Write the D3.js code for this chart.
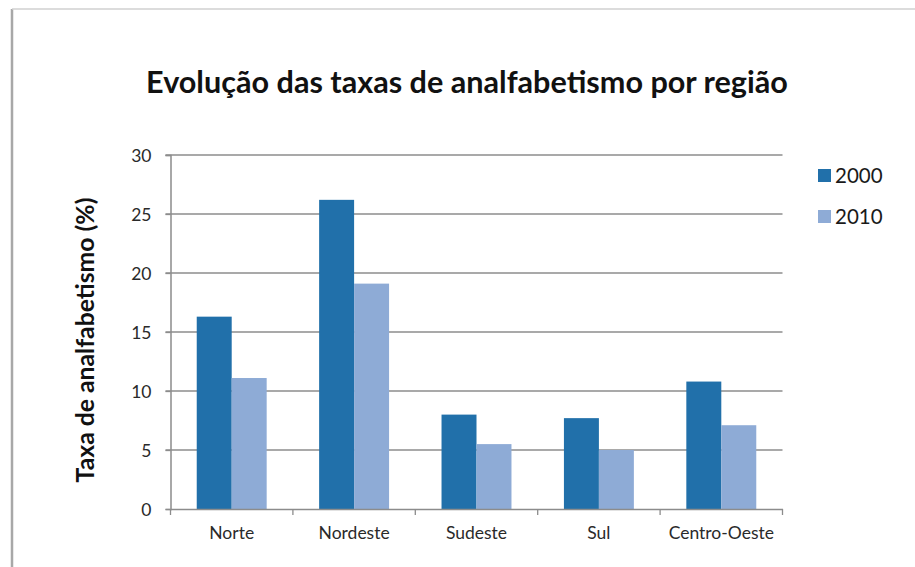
<!DOCTYPE html>
<html>
<head>
<meta charset="utf-8">
<script src="https://cdn.jsdelivr.net/npm/d3@7"></script>
<style>
  html, body { margin: 0; padding: 0; background: #ffffff; }
  svg { display: block; font-family: Lato, "Open Sans", sans-serif; }
</style>
</head>
<body>
<svg id="chart" width="915" height="567"></svg>
<script>
const categories = ["Norte", "Nordeste", "Sudeste", "Sul", "Centro-Oeste"];
const seriesNames = ["2000", "2010"];
const values2000 = [16.3, 26.2, 8.0, 7.7, 10.8];
const values2010 = [11.1, 19.1, 5.5, 5.0, 7.1];
const yTicks = [0, 5, 10, 15, 20, 25, 30];
const colors = ["#2170aa", "#8eabd6"];
const titleText = "Evolução das taxas de analfabetismo por região";
const yLabelText = "Taxa de analfabetismo (%)";

(function () {
const series = [values2000, values2010];
const svg = d3.select("#chart");

// chart-area border (left and top)
svg.append("line").attr("x1", 12).attr("x2", 12).attr("y1", 9).attr("y2", 567)
  .attr("stroke", "#a8a8a8").attr("stroke-width", 2.5);
svg.append("line").attr("x1", 12).attr("x2", 915).attr("y1", 9).attr("y2", 9)
  .attr("stroke", "#d0d0d0").attr("stroke-width", 1.5);

const pLeft = 170.5, pRight = 782.5, pTop = 155, pBottom = 509;

const x = d3.scaleBand().domain(categories).range([pLeft, pRight]).paddingInner(0).paddingOuter(0);
const y = d3.scaleLinear().domain([0, 30]).range([pBottom, pTop]);
const barW = x.bandwidth() / 3.5;
const xs = d3.scaleBand().domain(seriesNames)
  .range([x.bandwidth() / 2 - barW, x.bandwidth() / 2 + barW]).padding(0);

// gridlines
svg.append("g").selectAll("line").data(yTicks.filter(d => d > 0)).join("line")
  .attr("x1", pLeft - 5).attr("x2", pRight)
  .attr("y1", d => y(d)).attr("y2", d => y(d))
  .attr("stroke", "#8c8c8c").attr("stroke-width", 1.3);

// bars
const groups = svg.append("g").selectAll("g").data(categories).join("g")
  .attr("transform", d => `translate(${x(d)},0)`);
groups.selectAll("rect").data((d, i) => seriesNames.map((s, j) => ({ s, v: series[j][i], j })))
  .join("rect")
  .attr("x", d => xs(d.s)).attr("width", xs.bandwidth())
  .attr("y", d => y(d.v)).attr("height", d => y(0) - y(d.v))
  .attr("fill", d => colors[d.j]);

// y axis
const yAxis = svg.append("g").attr("transform", `translate(${pLeft},0)`)
  .call(d3.axisLeft(y).tickValues(yTicks).tickSize(5).tickPadding(14));
yAxis.select(".domain").attr("stroke", "#8c8c8c").attr("stroke-width", 1.5);
yAxis.selectAll(".tick line").attr("stroke", "#8c8c8c").attr("stroke-width", 1.3);
yAxis.selectAll(".tick text").attr("font-size", 17.5).attr("fill", "#2a2a2a").attr("font-family", "Lato, sans-serif")
  .attr("dy", "0.36em");

// x axis
const xAxis = svg.append("g").attr("transform", `translate(0,${pBottom})`)
  .call(d3.axisBottom(x).tickSize(0).tickPadding(18));
xAxis.select(".domain").attr("stroke", "#8c8c8c").attr("stroke-width", 1.5);
xAxis.selectAll(".tick text").attr("font-size", 17.5).attr("fill", "#2a2a2a").attr("font-family", "Lato, sans-serif");
// category separator ticks
svg.append("g").selectAll("line").data(categories.concat(["_end"])).join("line")
  .attr("x1", (d, i) => pLeft + i * x.step()).attr("x2", (d, i) => pLeft + i * x.step())
  .attr("y1", pBottom).attr("y2", pBottom + 6)
  .attr("stroke", "#8c8c8c").attr("stroke-width", 1.3);

// title
const title = svg.append("text").attr("x", 467).attr("y", 93).attr("text-anchor", "middle")
  .attr("font-weight", "bold").attr("font-size", 28).attr("fill", "#111").text(titleText);
const tw = title.node().getComputedTextLength();
title.attr("font-size", 28 * 642 / tw);

// y label
const yl = svg.append("text").attr("transform", "translate(94,340) rotate(-90)")
  .attr("text-anchor", "middle").attr("font-weight", "bold").attr("font-size", 20)
  .attr("fill", "#111").text(yLabelText);
const yw = yl.node().getComputedTextLength();
yl.attr("font-size", 20 * 285 / yw);

// legend
const legend = svg.append("g").selectAll("g").data(seriesNames).join("g")
  .attr("transform", (d, i) => `translate(818,${169 + i * 41})`);
legend.append("rect").attr("width", 13).attr("height", 13).attr("fill", (d, i) => colors[i]);
legend.append("text").attr("x", 17).attr("y", 13.5).attr("font-size", 20.5).attr("fill", "#1a1a1a").text(d => d);
})();
</script>
</body>
</html>
